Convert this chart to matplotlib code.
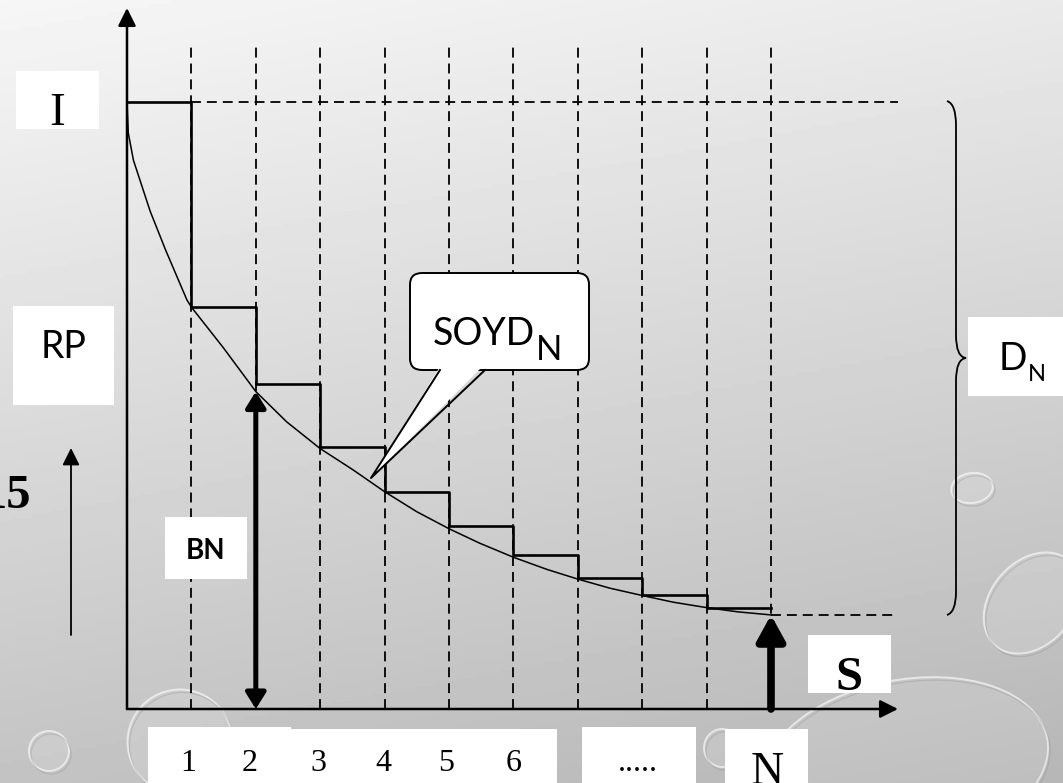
import numpy as np
import matplotlib
matplotlib.use('Agg')
import matplotlib.pyplot as plt
from matplotlib.patches import Rectangle, FancyBboxPatch, Polygon, Ellipse, PathPatch
from matplotlib.path import Path

# column boundaries 1..N (N = 10 columns) and the step heights
cols = np.arange(0, 11)
stair_y = [10, 6.63, 5.35, 4.31, 3.57, 3.02, 2.53, 2.16, 1.87, 1.66, 1.66]

# smooth decay curve
curve_x = [0, 0.02, 0.1, 0.36, 0.6, 0.93, 1.0, 1.49, 2.0, 2.48, 3.0, 3.51, 4.0,
           4.5, 5.0, 5.48, 6.0, 6.52, 7.0, 7.5, 8.0, 8.48, 9.0, 9.49, 10.0]
curve_y = [10, 9.49, 9.04, 8.2, 7.56, 6.74, 6.62, 5.96, 5.23, 4.73, 4.29, 3.94, 3.58,
           3.25, 2.97, 2.73, 2.50, 2.30, 2.14, 1.99, 1.87, 1.76, 1.67, 1.60, 1.55]

top_val = 10      # level I
end_val = 1.55    # level reached at N
bn_col = 2        # where BN is measured

tick_labels = ['1', '2', '3', '4', '5', '6']
tick_px = [188, 250, 318, 383, 446, 514]

SERIF = 'Liberation Serif'
SANS = 'Lato'

# pixel -> data helper (origin of the chart at pixel 127,709)
X0, Y0, SX, SY = 127, 709, 64.4, 60.7


def P(px, py):
    return (px - X0) / SX, (Y0 - py) / SY


fig = plt.figure(figsize=(10.63, 7.83), dpi=100)
ax = fig.add_axes([0, 0, 1, 1])
xmin, ymax = P(0, 0)
xmax, ymin = P(1063, 783)
ax.set_xlim(xmin, xmax)
ax.set_ylim(ymin, ymax)
ax.axis('off')

# grey gradient background
gy, gx = np.mgrid[0:1:200j, 0:1:200j]
bg = 0.965 - 0.20 * gy - 0.05 * gx
ax.imshow(bg, cmap='gray', vmin=0, vmax=1, extent=(xmin, xmax, ymin, ymax),
          aspect='auto', zorder=0, origin='upper')

# water drops (decoration)
drops = [((905, 765), 290, 170, 12), ((1032, 603), 85, 110, -35),
         ((972, 488), 42, 30, 10), ((49, 751), 40, 40, 0),
         ((180, 742), 105, 105, 0), ((722, 748), 36, 38, 0)]
for (cx, cy), w, h, ang in drops:
    c = P(cx, cy)
    ax.add_patch(Ellipse(c, w / SX, h / SY, angle=ang, fc='white', alpha=0.12,
                         ec='none', zorder=1))
    ax.add_patch(Ellipse(c, w / SX, h / SY, angle=ang, fc='none', ec='white',
                         lw=1.4, alpha=0.6, zorder=1))
    ax.add_patch(Ellipse(P(cx + 2, cy + 3), w / SX, h / SY, angle=ang, fc='none',
                         ec='#8a8a8a', lw=0.9, alpha=0.3, zorder=1))

dash = (0, (5.5, 3.3))
# vertical dashed column lines
for c in cols[1:]:
    ax.plot([c, c], [0, 10.9], color='k', lw=1.3, ls=dash, zorder=2)
# horizontal dashed levels
right_end = P(898, 0)[0]
ax.plot([1, right_end], [top_val, top_val], color='k', lw=1.3, ls=dash, zorder=2)
ax.plot([10, right_end], [end_val, end_val], color='k', lw=1.3, ls=dash, zorder=2)

# staircase and curve
ax.step(cols, stair_y, where='post', color='k', lw=1.9, zorder=3)
ax.plot(curve_x, curve_y, color='k', lw=1.1, zorder=3)

# axes with arrows
arr = dict(arrowstyle='-|>', color='k', lw=1.8, mutation_scale=27, shrinkA=0, shrinkB=0)
ax.annotate('', xy=P(127, 8), xytext=(0, 0), arrowprops=arr, zorder=5)
ax.annotate('', xy=P(898, 709), xytext=(0, 0), arrowprops=arr, zorder=5)

# BN double arrow
ax.annotate('', xy=(bn_col, curve_y[curve_x.index(2.0)]), xytext=(bn_col, 0),
            arrowprops=dict(arrowstyle='<|-|>,head_length=0.4,head_width=0.25', color='k',
                            lw=3.6, mutation_scale=24, shrinkA=0, shrinkB=0), zorder=5)
# N arrow
ax.annotate('', xy=(10, end_val), xytext=(10, 0),
            arrowprops=dict(arrowstyle='-|>,head_length=0.4,head_width=0.22', color='k',
                            lw=5.5, mutation_scale=38, shrinkA=0, shrinkB=0), zorder=5)
# left thin arrow
ax.annotate('', xy=P(71, 448), xytext=P(71, 635),
            arrowprops=dict(arrowstyle='-|>', color='k', lw=1.3, mutation_scale=26,
                            shrinkA=0, shrinkB=0), zorder=5)


def box(x0, y0, x1, y1, z=4):
    ax.add_patch(Rectangle(P(x0, y1), (x1 - x0) / SX, (y1 - y0) / SY,
                           fc='white', ec='none', zorder=z))


def label(px, py, s, **kw):
    return ax.text(*P(px, py), s, zorder=6, color='k', **kw)


def with_sub(px, py, main, sub, size, sub_size, sub_drop):
    # main text, then a subscript placed right after its measured extent
    t = label(px, py, main, family=SANS, fontsize=size, ha='left', va='baseline')
    fig.canvas.draw()
    bb = t.get_window_extent()
    x_end = ax.transData.inverted().transform((bb.x1, bb.y0))[0]
    ax.text(x_end + 1 / SX, P(0, py + sub_drop)[1], sub, family=SANS,
            fontsize=sub_size, ha='left', va='baseline', zorder=6, color='k')


# label boxes
box(16, 71, 99, 129)
label(57, 125, 'I', family=SERIF, fontsize=34, ha='center', va='baseline')
box(13, 306, 114, 405)
label(64, 358, 'RP', family=SANS, fontsize=27, ha='center', va='baseline')
box(165, 517, 247, 579)
label(206, 559, 'BN', family=SANS, fontsize=20, fontweight='bold', ha='center', va='baseline')
label(31, 508, '15', family=SERIF, fontsize=35, fontweight='bold', ha='right', va='baseline')
box(808, 635, 891, 693)
label(849, 690, 'S', family=SERIF, fontsize=35, fontweight='bold', ha='center', va='baseline')
box(968, 317, 1063, 396)
with_sub(999, 370, 'D', 'N', 27, 17, 11)

# bottom tick boxes
box(148, 727, 291, 783)
box(291, 729, 557, 783)
box(582, 727, 696, 783)
box(725, 729, 808, 783)
for t, x in zip(tick_labels, tick_px):
    label(x, 771, t, family=SERIF, fontsize=23, ha='center', va='baseline')
label(638, 771, '.....', family=SERIF, fontsize=23, ha='center', va='baseline')
label(767, 784, 'N', family=SERIF, fontsize=33, ha='center', va='baseline')

# SOYD_N callout
bx0, by0 = P(410, 370)
bx1, by1 = P(589, 273)
ax.add_patch(FancyBboxPatch((bx0, by0), bx1 - bx0, by1 - by0,
                            boxstyle='round,pad=0,rounding_size=0.19',
                            fc='white', ec='k', lw=1.4, zorder=4))
tail = [P(440, 368), P(485, 368), P(371, 478)]
ax.add_patch(Polygon([P(441, 365), P(484, 365), P(371, 478)], closed=True,
                     fc='white', ec='none', zorder=4.5))
ax.plot([tail[0][0], tail[2][0], tail[1][0]], [by0, tail[2][1], by0],
        color='k', lw=1.4, zorder=4.6)
with_sub(433, 345, 'SOYD', 'N', 27, 25, 15)

# brace for D_N
bp = [(947, 101), (956, 104), (956, 125), (956, 335), (956, 357), (966, 358),
      (956, 359), (956, 381), (956, 592), (956, 612), (947, 615)]
codes = [Path.MOVETO, Path.CURVE3, Path.CURVE3, Path.LINETO, Path.CURVE3, Path.CURVE3,
         Path.CURVE3, Path.CURVE3, Path.LINETO, Path.CURVE3, Path.CURVE3]
ax.add_patch(PathPatch(Path([P(*p) for p in bp], codes), fc='none', ec='k', lw=1.3, zorder=5))

fig.savefig('out.png', dpi=100)
